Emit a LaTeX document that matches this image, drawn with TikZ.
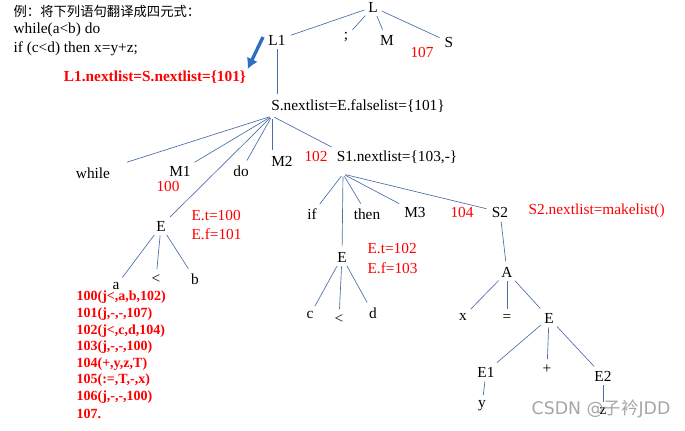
\documentclass[tikz,border=0pt]{standalone}
\usepackage{fontspec}
\setmainfont{Liberation Serif}
\newfontfamily\cjk{Noto Sans CJK SC}
\newfontfamily\wmfont{DejaVu Sans}
\usepackage{xcolor}
\usetikzlibrary{arrows.meta}
\definecolor{treeline}{HTML}{4A6FA5}
\definecolor{arrowblue}{HTML}{2F6CC4}
\newcommand{\treesize}{\fontsize{11.5}{13}\selectfont}
\begin{document}
\begin{tikzpicture}[x=0.75pt,y=-0.75pt,inner sep=1pt,font=\treesize,
  tl/.style={draw=treeline,line width=0.5pt,shorten >=3pt,shorten <=2pt},
  note/.style={text=red},
  code/.style={text=red,font=\fontsize{10.5}{12}\selectfont\bfseries,anchor=west}]
\useasboundingbox (0,0) rectangle (685,430);
% title
\node[anchor=west] (t1) at (12,11) {{\cjk\fontsize{10}{12}\selectfont 例：将下列语句翻译成四元式：}};
\node[anchor=west] (t2) at (12,30) {while(a<b) do};
\node[anchor=west] (t3) at (12,49) {if (c<d) then x=y+z;};
% top level
\node (L) at (373,7) {L};
\node (L1) at (277,40) {L1};
\node (semi) at (346,37) {;};
\node (M) at (387,40) {M};
\node (S) at (449,42) {S};
\node[note] (n107) at (422,52) {107};
\node[text=red,font=\treesize\bfseries] (l1n) at (155,77) {L1.nextlist=S.nextlist=\{101\}};
\draw[arrowblue,line width=2.5pt,-{Latex[length=8pt,width=9pt]}] (263,37) -- (l1n.north east);
\node (snl) at (358,106) {S.nextlist=E.falselist=\{101\}};
\coordinate (sh) at (272,116);
% while level
\node (while) at (93,173) {while};
\node (M1) at (180,171) {M1};
\node[note] (n100) at (168,186) {100};
\node (do) at (241,171) {do};
\node (M2) at (282,161) {M2};
\node[note] (n102) at (316,156) {102};
\node (S1) at (397,157) {S1.nextlist=\{103,-\}};
\coordinate (s1h) at (343,174);
% first E
\node (E1st) at (161,226) {E};
\node[note,anchor=west] (et1) at (190,216) {E.t=100};
\node[note,anchor=west] (ef1) at (190,234) {E.f=101};
\node (a) at (116,286) {a};
\node (lt1) at (156,279) {<};
\node (b) at (195,279) {b};
% code list
\foreach \txt [count=\i] in {100(j<{,}a{,}b{,}102),101(j{,}-{,}-{,}107),102(j<{,}c{,}d{,}104),
  103(j{,}-{,}-{,}100),104(+{,}y{,}z{,}T),105(:={,}T{,}-{,}x),106(j{,}-{,}-{,}100),107.}
  \node[code] (q\i) at (75,281+16.6*\i) {\txt};
% S1 children
\node (if) at (312,214) {if};
\node (then) at (367,214) {then};
\node (M3) at (415,212) {M3};
\node[note] (n104) at (462,212) {104};
\node (S2) at (500,212) {S2};
\node[note,anchor=west] (s2n) at (527,211) {S2.nextlist=makelist()};
\node (E2nd) at (342,257) {E};
\node[note,anchor=west] (et2) at (366,249) {E.t=102};
\node[note,anchor=west] (ef2) at (366,268) {E.f=103};
\node (c) at (310,315) {c};
\node (lt2) at (339,319) {<};
\node (d) at (373,313) {d};
\node (A) at (507,272) {A};
\node (x) at (463,317) {x};
\node (eq) at (507,318) {=};
\node (E3) at (549,318) {E};
\node (Ea) at (486,372) {E1};
\node (plus) at (547,369) {+};
\node (Eb) at (603,376) {E2};
\node (y) at (482,406) {y};
\node (z) at (603,411) {z};
\node[text=gray!70,font=\wmfont\fontsize{13}{15}\selectfont,anchor=east] (wm) at (672,409) {CSDN @{\cjk 子衿}JDD};
% connectors
\path (L) edge[tl] (L1);
\path (L) edge[tl] (semi);
\path (L) edge[tl] (M);
\path (L) edge[tl] (S);
\path (L1) edge[tl] (snl.north -| L1);
\path (sh) edge[tl,shorten >=12pt] (while);
\path (sh) edge[tl] (M1);
\path (sh) edge[tl] (E1st);
\path (sh) edge[tl] (do);
\path (sh) edge[tl] (M2.north -| sh);
\path (sh) edge[tl] (S1.north west);
\path (s1h) edge[tl] (if);
\path (s1h) edge[tl] (E2nd);
\path (s1h) edge[tl] (then);
\path (s1h) edge[tl] (M3);
\path (s1h) edge[tl] (S2);
\path (E1st) edge[tl] (a);
\path (E1st) edge[tl] (lt1);
\path (E1st) edge[tl] (b);
\path (E2nd) edge[tl] (c);
\path (E2nd) edge[tl] (lt2);
\path (E2nd) edge[tl] (d);
\path (S2) edge[tl] (A);
\path (A) edge[tl] (x);
\path (A) edge[tl] (eq);
\path (A) edge[tl] (E3);
\path (E3) edge[tl] (Ea);
\path (E3) edge[tl] (plus);
\path (E3) edge[tl] (Eb);
\path (Ea) edge[tl] (y);
\path (Eb) edge[tl] (z);
\end{tikzpicture}
\end{document}
